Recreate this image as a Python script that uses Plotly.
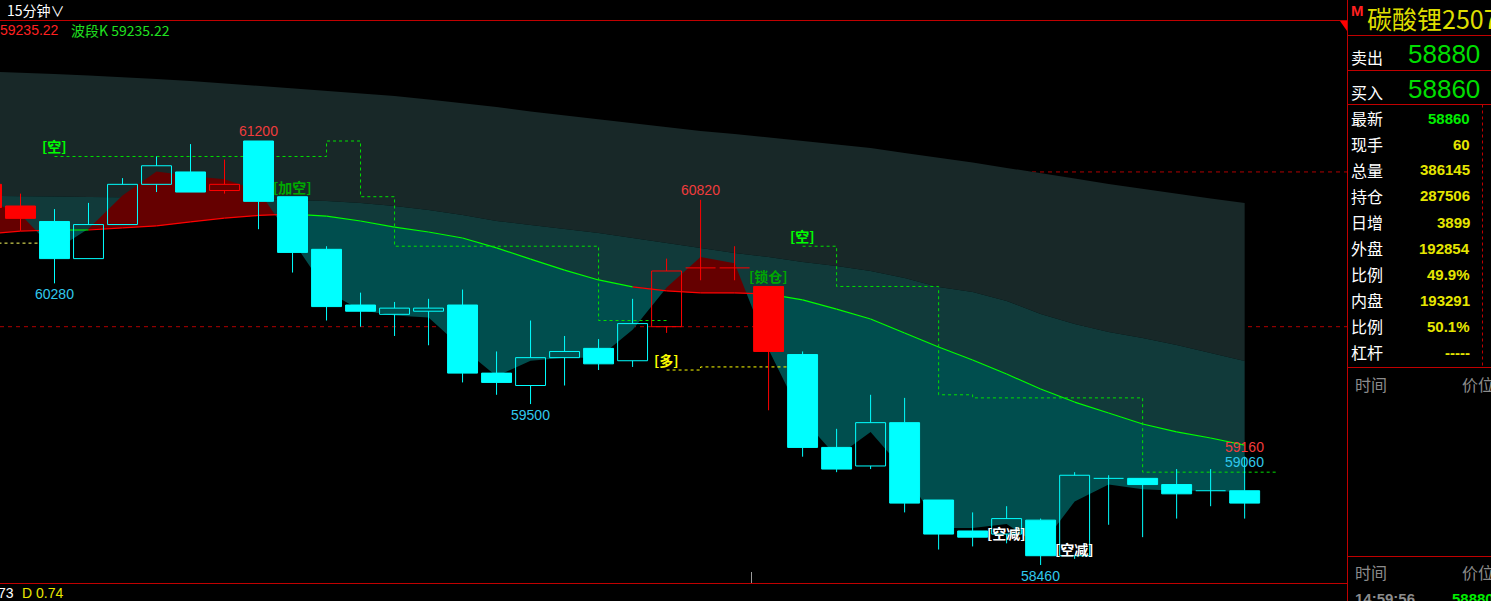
import numpy as np
import plotly.graph_objects as go

# ---------------- data ----------------
candle_idx = list(range(-1, 37))
opens  = [60920, 60780, 60680, 60440, 60660, 60920, 61000, 60880, 61200, 60840, 60500, 60140, 60080, 60100, 60140,
          59700, 59620, 59800, 59860, 59780, 60000, 60380, 60380, 60260, 59820, 59220, 59100, 59380, 58880, 58680,
          58660, 58750, 58520, 59020, 59020, 58980, 58940, 58940]
highs  = [60940, 60860, 60760, 60800, 60960, 61100, 61180, 61080, 61200, 60840, 60520, 60220, 60160, 60180, 60240,
          59840, 60040, 59940, 59920, 60180, 60440, 60820, 60520, 60260, 59840, 59340, 59560, 59540, 58880, 58800,
          58840, 58760, 59060, 59040, 59020, 59080, 59080, 59160]
lows   = [60750, 60620, 60280, 60440, 60660, 60870, 60870, 60860, 60630, 60350, 60040, 60000, 59940, 59880, 59640,
          59560, 59500, 59620, 59720, 59740, 59960, 60300, 60300, 59460, 59160, 59060, 59080, 58800, 58560, 58580,
          58600, 58460, 58500, 58720, 58640, 58760, 58840, 58760]
closes = [60770, 60700, 60440, 60660, 60920, 61040, 60870, 60920, 60810, 60480, 60130, 60100, 60120, 60120, 59700,
          59640, 59800, 59840, 59760, 60020, 60360, 60380, 60380, 59840, 59220, 59080, 59380, 58860, 58660, 58640,
          58760, 58520, 59040, 59020, 58980, 58920, 58940, 58860]
trend  = ["r", "r", "c", "c", "c", "c", "c", "r", "c", "c", "c", "c", "c", "c", "c", "c", "c", "c", "c", "c",
          "r", "r", "r", "r", "c", "c", "c", "c", "c", "c", "c", "c", "c", "c", "c", "c", "c", "c"]

band_upper = [61649, 61643, 61633, 61623, 61614, 61601, 61588, 61572, 61555, 61542, 61526, 61510, 61491, 61468,
              61446, 61420, 61391, 61365, 61339, 61313, 61287, 61265, 61245, 61223, 61203, 61181, 61155, 61122,
              61093, 61061, 61026, 60993, 60958, 60922, 60890, 60858, 60828, 60799]
band_mid   = [60845, 60845, 60841, 60838, 60838, 60835, 60832, 60828, 60825, 60819, 60812, 60799, 60780, 60754,
              60722, 60683, 60657, 60631, 60605, 60573, 60541, 60509, 60476, 60450, 60418, 60392, 60360, 60315,
              60257, 60224, 60166, 60082, 60018, 59966, 59927, 59882, 59830, 59778]
wave_line  = [60599, 60618, 60625, 60625, 60638, 60651, 60677, 60702, 60719, 60728, 60715, 60683, 60644, 60612,
              60573, 60509, 60437, 60366, 60302, 60257, 60231, 60218, 60218, 60211, 60173, 60114, 60050, 59959,
              59869, 59785, 59694, 59597, 59513, 59442, 59371, 59320, 59281, 59235.22]
price_curve = [60820, 60727, 60493, 60633, 60847, 61003, 60973, 60953, 60880, 60557, 60230, 60107, 60073, 60060,
               59860, 59680, 59780, 59800, 59800, 59980, 60253, 60450, 60410, 59853, 59407, 59160, 59320, 59067,
               58700, 58700, 58725, 58580, 58870, 58980, 58950, 58940, 58940, 58930]
# colour of each wave_line segment (from index k to k+1)
wave_seg_color = ["r", "r", "g", "r", "r", "r", "r", "r", "r", "g", "g", "g", "g", "g", "g", "g", "g", "g", "g",
                  "r", "r", "r", "r", "g", "g", "g", "g", "g", "g", "g", "g", "g", "g", "g", "g", "g", "g"]

stop1_x, stop1_y = [1, 9, 10, 11, 17, 19], [61100, 61200, 60840, 60520, 60040, 60040]
stop2_x, stop2_y = [23, 24, 27, 28, 33, 37], [60520, 60260, 59560, 59540, 59060, 59060]
long_x, long_y = [19, 20, 23], [59720, 59740, 59740]
left_x, left_y = [-1, 1], [60540, 60540]
ref_levels = [61000, 60000]

signals = [  # (index, price, text, colour)
    (1, 61100, "[空]", "#00ff00"),
    (8, 60840, "[加空]", "#00a800"),
    (22, 60260, "[锁仓]", "#00a800"),
    (23, 60520, "[空]", "#00ff00"),
    (19, 59720, "[多]", "#ffff00"),
    (29, 58600, "[空减]", "#ffffff"),
    (31, 58500, "[空减]", "#ffffff"),
]
price_marks = [  # (index, price, text, colour, above)
    (7, 61200, "61200", "#f03c3c", True),
    (1, 60280, "60280", "#30c8ec", False),
    (15, 59500, "59500", "#30c8ec", False),
    (20, 60820, "60820", "#f03c3c", True),
    (30, 58460, "58460", "#30c8ec", False),
    (36, 59160, "59160", "#f03c3c", True),
    (36, 59060, "59060", "#30c8ec", True),
]
quote_labels = ["最新", "现手", "总量", "持仓", "日增", "外盘", "比例", "内盘", "比例", "杠杆"]
quote_values = ["58860", "60", "386145", "287506", "3899", "192854", "49.9%", "193291", "50.1%", "-----"]
ask_price, bid_price = "58880", "58860"

# ---------------- layout helpers ----------------
W, H = 1491, 601
PLOT_R = 1347
def px(x): return x / W
def py(y): return 1 - y / H

CYAN, RED = "#00ffff", "#ff0000"
FONT = "Liberation Sans, Noto Sans CJK SC, sans-serif"
CJK = "Noto Sans CJK SC, sans-serif"

fig = go.Figure()
xs = np.array(candle_idx, dtype=float)

def add_fill(lower, upper, color, x=None):
    x = xs if x is None else x
    fig.add_trace(go.Scatter(x=x, y=lower, mode="lines", line=dict(width=0), hoverinfo="skip"))
    fig.add_trace(go.Scatter(x=x, y=upper, mode="lines", line=dict(width=0), fill="tonexty",
                             fillcolor=color, hoverinfo="skip"))

# insert crossing points of price_curve and wave_line
def with_crossings(x, a, b):
    ox, oa, ob = [x[0]], [a[0]], [b[0]]
    for k in range(1, len(x)):
        d0, d1 = a[k-1] - b[k-1], a[k] - b[k]
        if d0 * d1 < 0:
            t = d0 / (d0 - d1)
            xc = x[k-1] + t * (x[k] - x[k-1])
            yc = a[k-1] + t * (a[k] - a[k-1])
            ox.append(xc); oa.append(yc); ob.append(yc)
        ox.append(x[k]); oa.append(a[k]); ob.append(b[k])
    return np.array(ox), np.array(oa), np.array(ob)

add_fill(band_mid, band_upper, "#182828")
add_fill(wave_line, band_mid, "#113a3a")
cx, cL, cG = with_crossings(xs, np.array(price_curve, float), np.array(wave_line, float))
add_fill(np.minimum(cL, cG), cG, "#004e4e", cx)
add_fill(cG, np.maximum(cL, cG), "#650000", cx)

# wave line coloured by segment
seg = {"r": ([], []), "g": ([], [])}
for k, c in enumerate(wave_seg_color):
    seg[c][0].extend([xs[k], xs[k+1], None])
    seg[c][1].extend([wave_line[k], wave_line[k+1], None])
fig.add_trace(go.Scatter(x=seg["r"][0], y=seg["r"][1], mode="lines", line=dict(color=RED, width=1.2), hoverinfo="skip"))
fig.add_trace(go.Scatter(x=seg["g"][0], y=seg["g"][1], mode="lines", line=dict(color="#00ff00", width=1.2), hoverinfo="skip"))

# dashed stop lines
for sx, sy, col in [(stop1_x, stop1_y, "#00e000"), (stop2_x, stop2_y, "#00e000"),
                    (long_x, long_y, "#ffff00"), (left_x, left_y, "#ffff60")]:
    fig.add_trace(go.Scatter(x=sx, y=sy, mode="lines", line=dict(color=col, width=1, dash="3px,3px", shape="hv"),
                             hoverinfo="skip"))

# candles
hw = 0.44
groups = {}
for i, o, h, l, c, t in zip(candle_idx, opens, highs, lows, closes, trend):
    col = RED if t == "r" else CYAN
    top, bot = max(o, c), min(o, c)
    g = groups.setdefault(col, {"wx": [], "wy": [], "sx": [], "sy": [], "hx": [], "hy": []})
    if o == c:
        g["wx"] += [i - hw, i + hw, None, i, i, None]
        g["wy"] += [o, o, None, h, l, None]
        continue
    if h > top:
        g["wx"] += [i, i, None]; g["wy"] += [h, top, None]
    if l < bot:
        g["wx"] += [i, i, None]; g["wy"] += [bot, l, None]
    key = ("hx", "hy") if c > o else ("sx", "sy")
    g[key[0]] += [i - hw, i + hw, i + hw, i - hw, i - hw, None]
    g[key[1]] += [top, top, bot, bot, top, None]

for col, g in groups.items():
    fig.add_trace(go.Scatter(x=g["wx"], y=g["wy"], mode="lines", line=dict(color=col, width=1), hoverinfo="skip"))
    fig.add_trace(go.Scatter(x=g["sx"], y=g["sy"], mode="lines", line=dict(color=col, width=1),
                             fill="toself", fillcolor=col, hoverinfo="skip"))
    fig.add_trace(go.Scatter(x=g["hx"], y=g["hy"], mode="lines", line=dict(color=col, width=1), hoverinfo="skip"))

# ---------------- annotations ----------------
ann = []
for i, p, txt, col in signals:
    ann.append(dict(x=i, y=p, xref="x", yref="y", text=f"<b>{txt}</b>", showarrow=False, xanchor="center",
                    yanchor="bottom", font=dict(family=CJK, size=14, color=col), borderpad=0, yshift=-1))
for i, p, txt, col, above in price_marks:
    ann.append(dict(x=i, y=p, xref="x", yref="y", text=txt, showarrow=False, xanchor="center",
                    yanchor="bottom" if above else "top", yshift=1 if above else -2,
                    font=dict(family=FONT, size=14, color=col), borderpad=0))

def ptext(x, y, text, color, size, anchor="left", family=FONT, bold=False):
    t = f"<b>{text}</b>" if bold else text
    ann.append(dict(x=px(x), y=py(y), xref="paper", yref="paper", text=t, showarrow=False, xanchor=anchor,
                    yanchor="middle", font=dict(family=family, size=size, color=color), borderpad=0))

ptext(6, 10, "15分钟∨", "#ffffff", 14, family=CJK)
ptext(-1, 30, "59235.22", "#ff2020", 14)
ptext(70, 30, "波段K 59235.22", "#20e020", 14, family=CJK)
ptext(-3, 593, "73", "#ffffff", 14)
ptext(21, 593, "D 0.74", "#e8e800", 14)

# right panel
ptext(1350, 11, "M", "#ff2020", 15, bold=True)
ptext(1366, 18, "碳酸锂2507", "#dede00", 25, family=CJK)
ptext(1350, 57, "卖出", "#ffffff", 16, family=CJK)
ptext(1481, 54, ask_price, "#00dd00", 26, anchor="right")
ptext(1350, 92, "买入", "#ffffff", 16, family=CJK)
ptext(1481, 89, bid_price, "#00dd00", 26, anchor="right")
for k, (lab, val) in enumerate(zip(quote_labels, quote_values)):
    yy = 118 + 26 * k
    ptext(1350, yy, lab, "#ffffff", 16, family=CJK)
    ptext(1471, yy, val, "#00ee00" if k == 0 else "#e6e600", 15, anchor="right", bold=True)
for yy in (384, 572):
    ptext(1354, yy, "时间", "#8c8c8c", 16, family=CJK)
    ptext(1461, yy, "价位", "#8c8c8c", 16, family=CJK)
ptext(1354, 598, "14:59:56", "#8c8c8c", 15, bold=True)
ptext(1451, 598, "58880", "#00ee00", 15, bold=True)

# ---------------- shapes ----------------
shapes = []
LINE = "#c00000"
for lvl in ref_levels:
    shapes.append(dict(type="line", xref="paper", yref="y", x0=0, x1=px(PLOT_R), y0=lvl, y1=lvl, layer="below",
                       line=dict(color="#b00000", width=1, dash="4px,4px")))
def hline(y, x0, x1, dash=None):
    shapes.append(dict(type="line", xref="paper", yref="paper", x0=px(x0), x1=px(x1), y0=py(y), y1=py(y),
                       line=dict(color=LINE, width=1, dash=dash) if dash else dict(color=LINE, width=1)))
def vline(x, y0, y1, dash=None, color=LINE):
    shapes.append(dict(type="line", xref="paper", yref="paper", x0=px(x), x1=px(x), y0=py(y0), y1=py(y1),
                       line=dict(color=color, width=1, dash=dash) if dash else dict(color=color, width=1)))
hline(20.5, 0, PLOT_R)
hline(583.5, 0, PLOT_R)
vline(PLOT_R + 0.5, 0, H)
for yy in (35.5, 70.5, 104.5, 367.5, 556.5):
    hline(yy, PLOT_R, W)
vline(1482.5, 104.5, 367.5, dash="3px,3px")
vline(751.5, 572, 583, color="#9a9a9a")
shapes.append(dict(type="path", xref="paper", yref="paper",
                   path=f"M {px(1340)} {py(21)} L {px(1347)} {py(21)} L {px(1347)} {py(31)} Z",
                   fillcolor="#ff0000", line=dict(width=0)))

fig.update_layout(
    width=W, height=H, margin=dict(l=0, r=0, t=0, b=0, pad=0),
    paper_bgcolor="#000000", plot_bgcolor="#000000", showlegend=False,
    xaxis=dict(domain=[0, px(PLOT_R)], range=[-0.603, 39.01], visible=False, fixedrange=True),
    yaxis=dict(domain=[py(583), py(21)], range=[58343.8, 61975.4], visible=False, fixedrange=True),
    annotations=ann, shapes=shapes,
)
fig.write_html("out.html", config={"displayModeBar": False, "staticPlot": True},
               post_script="document.body.style.margin='0px';document.body.style.overflow='hidden';")
